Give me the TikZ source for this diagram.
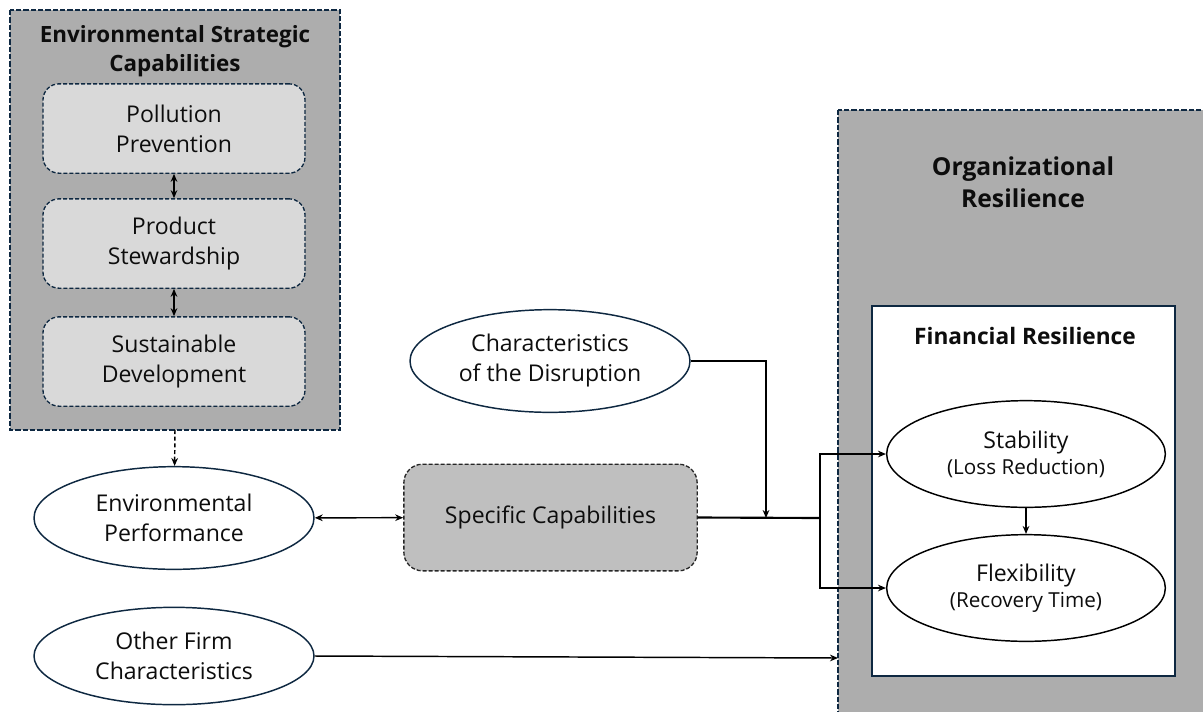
\documentclass[tikz,border=0pt]{standalone}
\usepackage{fontspec}
\setmainfont{Open Sans}
\usetikzlibrary{shapes.geometric,arrows.meta}
\definecolor{navy}{RGB}{14,40,65}
\definecolor{outerfill}{RGB}{173,173,173}
\definecolor{innerfill}{RGB}{217,217,217}
\definecolor{specfill}{RGB}{191,191,191}
\tikzset{
  txt/.style={font=\fontsize{17.3}{22.5}\selectfont, align=center, text=black!95},
  capbox/.style={txt, draw=navy, line width=1pt, dash pattern=on 3pt off 1.5pt, rounded corners=12pt,
    fill=innerfill, minimum width=196.5pt, minimum height=67pt, inner sep=0pt},
  factor/.style={txt, ellipse, draw=navy, line width=1.1pt, fill=white, minimum width=210pt,
    minimum height=77pt, inner sep=0pt},
  outcome/.style={factor, draw=black, minimum width=209pt, minimum height=80pt},
  link/.style={line width=1.1pt, -{Stealth[length=6pt,width=5pt]}},
  duallink/.style={line width=1.1pt, {Stealth[length=6pt,width=5pt]}-{Stealth[length=6pt,width=5pt]}},
  container/.style={draw=navy, line width=1.5pt, dash pattern=on 4pt off 1.5pt}
}
\begin{document}
\begin{tikzpicture}[x=0.75pt,y=0.75pt,yscale=-1,xscale=1]
\useasboundingbox (0,0) rectangle (1203,711);
\clip (0,0) rectangle (1203,711);

% Environmental strategic capabilities
\draw [container, fill=outerfill] (10,10) rectangle (340,430);
\node (esctitle) [txt, font=\fontsize{16.8}{21.75}\selectfont\bfseries] at (175,51) {Environmental Strategic\\Capabilities};
\node (pp) [capbox] at (174,128.5) {Pollution\\Prevention};
\node (ps) [capbox] at (174,243.5) {Product\\Stewardship};
\node (sd) [capbox] at (174,361.5) {Sustainable\\Development};
\draw [duallink, line width=0.9pt] (pp) -- (ps);
\draw [duallink, line width=0.9pt] (ps) -- (sd);
\coordinate (escbot) at (175,430);

% Organizational resilience
\draw [container, fill=outerfill] (838,110) rectangle (1215,725);
\node (orgtitle) [txt, font=\fontsize{18.5}{24}\selectfont\bfseries] at (1023,182) {Organizational\\Resilience};
\draw [draw=navy, line width=2pt, fill=white] (872,306) rectangle (1175,676);
\node (fintitle) [txt, font=\fontsize{17}{20}\selectfont\bfseries] at (1025,336) {Financial Resilience};
\node (stab) [outcome] at (1026,454) {Stability\\[-3pt]{\fontsize{15.5}{18}\selectfont(Loss Reduction)}};
\node (flex) [outcome] at (1026,588) {Flexibility\\[-3pt]{\fontsize{15.5}{18}\selectfont(Recovery Time)}};
\draw [link] (stab) -- (flex);

% Antecedents
\node (envperf) [factor] at (174,518) {Environmental\\Performance};
\node (disr) [factor] at (550,361) {Characteristics\\of the Disruption};
\node (other) [factor, minimum height=73pt] at (174,656) {Other Firm\\Characteristics};
\node (spec) [txt, draw=black!85, line width=1pt, dash pattern=on 3pt off 1.5pt, rounded corners=14pt,
  fill=specfill, minimum width=220pt, minimum height=80pt] at (550.5,517.5) {Specific Capabilities};

\draw [link, dash pattern=on 3pt off 2pt] (escbot) -- (envperf);
\draw [duallink] (envperf) -- (spec);
\coordinate (merge) at (766,518);
\coordinate (split) at (820,518);
\coordinate (orgleft) at (838,658);
\draw [link] (disr.east) -| (merge);
\draw [line width=1.6pt] (spec.east) -- (split);
\draw [link] (split) |- (stab.west);
\draw [link] (split) |- (flex.west);
\draw [link] (other.east) -- (orgleft);
\end{tikzpicture}
\end{document}
